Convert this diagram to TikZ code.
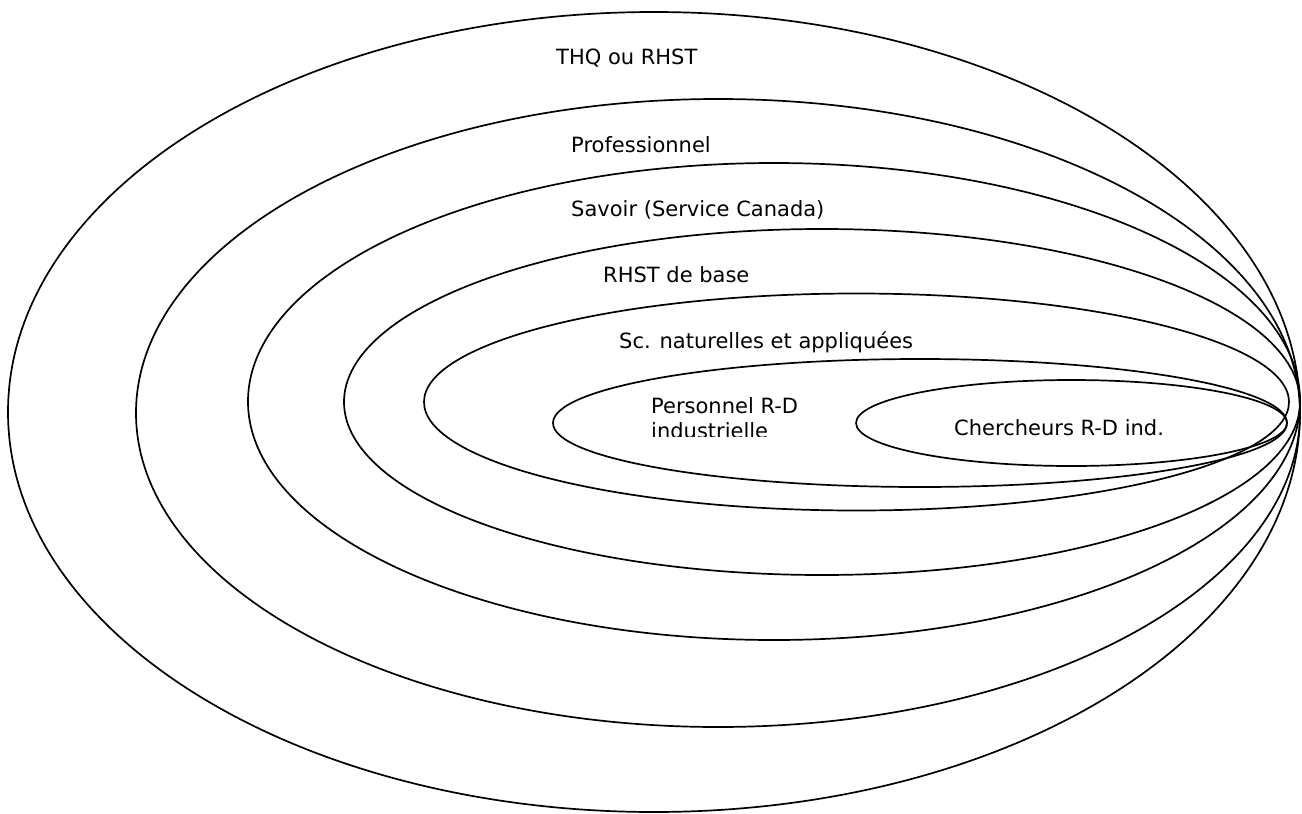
\documentclass[tikz,border=0pt]{standalone}
\usepackage{fontspec}
\setmainfont{DejaVu Sans}
\usetikzlibrary{positioning}

\begin{document}
\begin{tikzpicture}[x=1pt,y=-1pt,
	ring/.style={draw=black,line width=1.7pt},
	lbl/.style={inner sep=0pt,anchor=base west,font=\fontsize{21}{25}\selectfont}]
	\useasboundingbox (0,0) rectangle (1302,814);
	%% anneaux
	\draw[ring] (654,412) ellipse [x radius=646,y radius=400];
	\draw[ring] (718,413) ellipse [x radius=582,y radius=314];
	\draw[ring] (774,401.5) ellipse [x radius=526,y radius=238.5];
	\draw[ring] (822,402) ellipse [x radius=478,y radius=173];
	\draw[ring] (856.5,402) ellipse [x radius=432.5,y radius=108.5];
	\draw[ring] (920,423) ellipse [x radius=367,y radius=64];
	\draw[ring] (1071.5,423) ellipse [x radius=215.5,y radius=43];
	%% etiquettes
	\node[lbl] (thq) at (556,64) {THQ ou RHST};
	\node[lbl] (prof) at (571,152) {Professionnel};
	\node[lbl] (savoir) at (571,216) {Savoir (Service Canada)};
	\node[lbl] (rhst) at (603,282) {RHST de base};
	\node[lbl] (scnat) at (619,348) {Sc. naturelles et appliquées};
	\node[lbl] (pers) at (651,413) {Personnel R-D};
	\begin{scope}
		\clip (600,415) rectangle (800,436.5);
		\node[lbl, below=25pt of pers.base west, anchor=base west] (persb) {industrielle};
	\end{scope}
	\node[lbl] (cherch) at (954,435) {Chercheurs R-D ind.};
\end{tikzpicture}
\end{document}
